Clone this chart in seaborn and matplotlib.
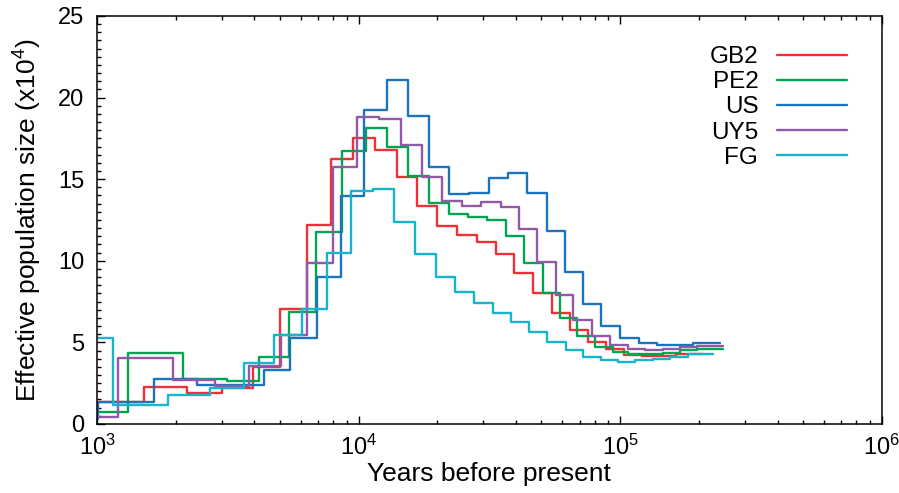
import numpy as np
import pandas as pd
import matplotlib
matplotlib.use('Agg')
import matplotlib.pyplot as plt
from matplotlib.ticker import MultipleLocator, LogLocator, NullFormatter
import seaborn as sns

# step start times (years before present) and Ne (x10^4), last value repeats to close the step
gb2_t = [950, 1512, 2203, 2997, 3958, 5028, 6330, 7842, 9545, 11582, 13982, 16678, 19888, 23778,
         28282, 33424, 39364, 46416, 54727, 64281, 75509, 88268, 103393, 120843, 164000, 207856]
gb2_ne = [1.35, 2.25, 1.92, 2.19, 3.51, 7.07, 12.19, 16.24, 17.50, 16.79, 15.11, 13.36, 12.12, 11.58,
          11.13, 10.40, 9.27, 8.01, 6.78, 5.76, 5.04, 4.58, 4.23, 4.19, 4.27, 4.27]

pe2_t = [950, 1314, 2138, 3131, 4173, 5440, 6900, 8620, 10673, 12876, 15480, 18581, 22222, 26200,
         31045, 36592, 43003, 50563, 58867, 68548, 80110, 93624, 107380, 146155, 169285, 196640, 247820]
pe2_ne = [0.71, 4.37, 2.74, 2.63, 4.12, 6.84, 11.75, 16.75, 18.12, 16.95, 15.18, 13.57, 12.85, 12.70,
          12.50, 11.52, 9.89, 8.05, 6.47, 5.38, 4.70, 4.40, 4.27, 4.37, 4.53, 4.62, 4.62]

us_t = [900, 1009, 1652, 2405, 4348, 5480, 6935, 8588, 10515, 12808, 15400, 18581, 22222, 26425,
        31514, 37341, 44156, 52367, 61517, 72267, 84843, 99816, 118010, 138645, 162001, 190318, 240720]
us_ne = [0.3, 1.33, 2.76, 2.39, 3.31, 5.25, 9.03, 13.99, 19.24, 21.08, 18.87, 15.74, 14.07, 14.18,
         15.05, 15.36, 14.18, 11.83, 9.30, 7.36, 6.03, 5.29, 4.94, 4.81, 4.85, 4.94, 4.94]

uy5_t = [950, 1203, 1947, 2826, 3822, 5040, 6378, 8002, 9888, 11998, 14523, 17427, 20893, 24958,
         29376, 34924, 41135, 48083, 56830, 66175, 77804, 91425, 107380, 124406, 146155, 169285, 196640, 247820]
uy5_ne = [0.45, 4.02, 2.70, 2.33, 3.55, 5.47, 9.89, 15.77, 18.83, 18.67, 17.10, 15.13, 13.68, 13.36,
          13.58, 13.28, 11.95, 9.92, 7.92, 6.35, 5.39, 4.81, 4.60, 4.53, 4.58, 4.70, 4.80, 4.80]

fg_t = [950, 1148, 1863, 2704, 3647, 4770, 6075, 7594, 9353, 11380, 13690, 16430, 19713, 23365,
        27614, 32551, 38237, 44938, 52646, 61900, 72267, 84843, 98330, 113922, 133850, 155030, 182116, 225726]
fg_ne = [5.25, 1.16, 1.78, 2.19, 3.76, 5.45, 7.04, 10.50, 14.30, 14.38, 12.37, 10.41, 9.03, 8.11,
         7.39, 6.78, 6.25, 5.64, 5.02, 4.53, 4.12, 3.92, 3.82, 3.90, 4.00, 4.12, 4.29, 4.29]

names = ['GB2', 'PE2', 'US', 'UY5', 'FG']
colors = ['#ED3237', '#00A54F', '#1C75BC', '#9159A6', '#17B4CD']
series = [(gb2_t, gb2_ne), (pe2_t, pe2_ne), (us_t, us_ne), (uy5_t, uy5_ne), (fg_t, fg_ne)]

sns.set_style('ticks')
plt.rcParams['font.family'] = ['Liberation Sans', 'DejaVu Sans']
plt.rcParams['mathtext.fontset'] = 'custom'
plt.rcParams['mathtext.rm'] = 'Liberation Sans'
plt.rcParams['mathtext.default'] = 'regular'
for k in ['text.color', 'axes.labelcolor', 'xtick.color', 'ytick.color', 'xtick.labelcolor', 'ytick.labelcolor']:
    plt.rcParams[k] = 'black'

fig = plt.figure(figsize=(8.99, 4.93), dpi=100)
ax = fig.add_axes([0.1079, 0.140, 0.8729, 0.8276])

for name, col, (t, ne) in zip(names, colors, series):
    sns.lineplot(x=t, y=ne, ax=ax, color=col, lw=1.7, label=name,
                 drawstyle='steps-post', estimator=None, sort=False)

ax.set_xscale('log')
ax.set_xlim(1e3, 1e6)
ax.set_ylim(0, 25)
ax.xaxis.set_major_locator(LogLocator(base=10))
ax.xaxis.set_minor_locator(LogLocator(base=10, subs=np.arange(2, 10)))
ax.xaxis.set_minor_formatter(NullFormatter())
ax.yaxis.set_major_locator(MultipleLocator(5))
ax.yaxis.set_minor_locator(MultipleLocator(0.5))

for s in ax.spines.values():
    s.set_visible(True)
    s.set_linewidth(1.1)
    s.set_color('black')

ax.tick_params(which='both', direction='in', color='black', width=1.0)
ax.tick_params(which='major', length=5.5)
ax.tick_params(which='minor', length=3)
ax.tick_params(axis='x', which='both', top=True, bottom=True, labelsize=17, pad=8)
ax.tick_params(axis='y', which='both', left=True, right=False, labelsize=17, pad=9)

ax.set_xlabel('Years before present', fontsize=19, labelpad=1)
ax.set_ylabel('Effective population size (x10$^{4}$)', fontsize=19, labelpad=10)

ax.legend(loc='upper right', bbox_to_anchor=(847 / 899, 1 - 46 / 493), bbox_transform=fig.transFigure,
          frameon=False, markerfirst=False, fontsize=17.5, handlelength=2.9, handletextpad=0.75,
          labelspacing=0.13, borderpad=0, borderaxespad=0)

fig.savefig('out.png', dpi=100)
